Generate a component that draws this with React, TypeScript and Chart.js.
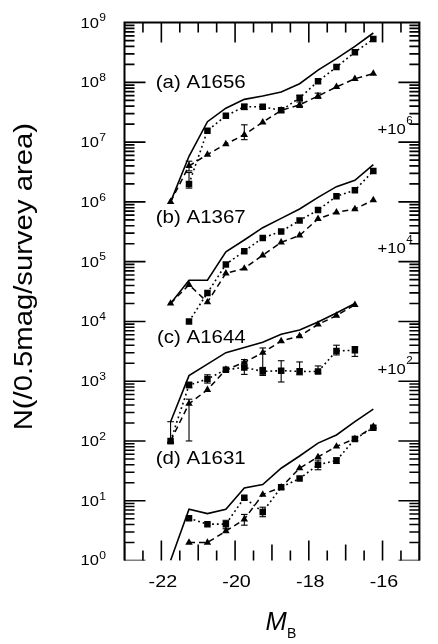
import { useEffect, useRef } from "react";
import { Chart, registerables } from "chart.js";

Chart.register(...registerables);

// Absolute magnitude bin centres (M_B)
const MAGS = [-21.75, -21.25, -20.75, -20.25, -19.75, -19.25, -18.75, -18.25, -17.75, -17.25, -16.75, -16.25];

const PANEL_LABELS = ["(a) A1656", "(b) A1367", "(c) A1644", "(d) A1631"];
const OFFSET_EXPONENTS = [6, 4, 2, 0];

// (a) A1656  (plotted x 10^6)
const A1656_TOTAL = [1.0, 5.8, 22, 37, 52, 59, 69, 95, 160, 250, 400, 670];
const A1656_SQ = [null, 2.0, 15.5, 27.7, 39, 39, 34, 55, 104, 180, 320, 530];
const A1656_TRI = [1.0, 4.0, 6.2, 9.3, 13.3, 21.5, 34, 42, 59, 84, 115, 140];
const A1656_SQ_ERR = [null, [1.7, 3.1], null, null, [35, 43], [36, 42], null, [50, 61], null, null, null, null];
const A1656_TRI_ERR = [null, [3.3, 4.8], null, null, [11, 19.5], null, null, [38, 47], [54, 66], null, null, null];

// (b) A1367  (plotted x 10^4)
const A1367_TOTAL = [2.0, 4.9, 4.9, 14.6, 23, 37, 53, 76, 119, 180, 230, 420];
const A1367_SQ = [null, 1.0, 3.0, 9.0, 15, 25, 32, 49, 73, 124, 157, 330];
const A1367_TRI = [2.0, 4.1, 2.1, 6.4, 7.7, 12.8, 21, 27.5, 52, 67, 76, 107];

// (c) A1644  (plotted x 10^2)
const A1644_TOTAL = [2.1, 12.4, 19.3, 30, 36.5, 45, 61, 72, 98, 138, 200, null];
const A1644_SQ = [1.0, 8.6, 10.9, 15.6, 17, 14.6, 15, 14.6, 14.5, 32, 33, null];
const A1644_TRI = [1.0, 4.2, 7.2, 15.6, 20.6, 30, 47, 57, 89, 125, 190, null];
const A1644_SQ_ERR = [[0.9, 2.1], [7.8, 9.6], [9.3, 12.8], null, [13, 21], [12.5, 17], [9.7, 22], [12.8, 21], [13.5, 18], [27.5, 40], [26, 38], null];
const A1644_TRI_ERR = [null, [1.0, 5.0], null, null, [18, 23], [16, 36], null, null, null, null, null, null];

// (d) A1631  (no offset)
const A1631_TOTAL = [1.0, 7.2, 6.1, 7.2, 16.4, 18.6, 35, 56, 92, 126, 210, 342];
const A1631_SQ = [null, 5.1, 4.06, 4.06, 11.2, 6.5, 16.8, 23.5, 40, 47, 108, 166];
const A1631_TRI = [null, 2.0, 2.0, 3.1, 4.9, 12.7, 16.8, 35, 54, 81, 109, 174];
const A1631_SQ_ERR = [null, null, null, [3.4, 4.7], null, [5.4, 7.8], null, null, [33, 48], [42, 52], null, null];
const A1631_TRI_ERR = [null, null, null, null, [3.9, 5.9], null, null, null, null, null, null, null];

const X_MIN = -23;
const X_MAX = -15;
const Y_MIN = 1;
const Y_MAX = 1e9;
const X_TICK_LABELS = [-22, -20, -18, -16];
const Y_TICK_EXPONENTS = [0, 1, 2, 3, 4, 5, 6, 7, 8, 9];
const Y_MINOR_MANTISSAS = [1, 2, 3, 4, 5, 6, 7, 8, 9];

const Y_TITLE = "N(/0.5mag/survey area)";

const FONT = '"Liberation Sans", Arial, Helvetica, sans-serif';

type ErrList = (number[] | null)[] | null;

const ERROR_SETS: { errs: (number[] | null)[] }[] = [];

function makeSeries(values: (number | null)[], exp: number, kind: "solid" | "sq" | "tri", errors: ErrList = null) {
  const off = Math.pow(10, exp);
  if (errors) ERROR_SETS.push({ errs: errors.map((e) => (e ? [e[0] * off, e[1] * off] : null)) });
  const data = MAGS.map((x, i) => ({ x, y: values[i] == null ? null : (values[i] as number) * off }));
  const base: any = {
    data,
    borderColor: "#000",
    backgroundColor: "#000",
    pointBackgroundColor: "#000",
    pointBorderWidth: 0,
    tension: 0,
    fill: false,
  };
  if (kind === "solid") return { ...base, borderWidth: 1.6, pointRadius: 0 };
  if (kind === "sq") return { ...base, borderWidth: 1.6, borderDash: [1.8, 3], pointStyle: "rect", pointRadius: 4.6 };
  return { ...base, borderWidth: 1.5, borderDash: [6, 4], pointStyle: "triangle", pointRadius: 4.3 };
}

// axis tick marks drawn as 'line' point markers sitting on the frame edge,
// clipped to the plot area so only the inner half shows
function tickSeries(points: { x: number; y: number }[], lengths: number[], vertical: boolean) {
  return {
    data: points,
    showLine: false,
    pointStyle: "line",
    pointRotation: vertical ? 90 : 0,
    pointRadius: lengths,
    pointBorderWidth: 1.6,
    pointBorderColor: "#000",
    pointBackgroundColor: "#000",
    borderColor: "#000",
    clip: 0,
  };
}

function axisDatasets() {
  const xTicks: number[] = [];
  for (let k = 0; k <= 16; k++) xTicks.push(X_MIN + k * 0.5);
  const isInt = (v: number) => Math.abs(v - Math.round(v)) < 1e-6;
  const isEven = (v: number) => isInt(v) && Math.abs(Math.round(v)) % 2 === 0;
  const bottomLen = xTicks.map((v) => (isEven(v) ? 20 : isInt(v) ? 16 : 10));
  const topLen = xTicks.map((v) => (isEven(v) ? 20 : 10));

  const yTicks: number[] = [];
  const yLen: number[] = [];
  for (let e = 0; e < 9; e++) {
    Y_MINOR_MANTISSAS.forEach((m) => {
      yTicks.push(m * Math.pow(10, e));
      yLen.push(m === 1 ? 21 : 10);
    });
  }

  return [
    tickSeries(xTicks.map((x) => ({ x, y: Y_MIN })), bottomLen, true),
    tickSeries(xTicks.map((x) => ({ x, y: Y_MAX })), topLen, true),
    tickSeries(yTicks.map((y) => ({ x: X_MIN, y })), yLen, false),
    tickSeries(yTicks.map((y) => ({ x: X_MAX, y })), yLen, false),
    {
      data: [
        { x: X_MIN, y: Y_MIN },
        { x: X_MIN, y: Y_MAX },
        { x: X_MAX, y: Y_MAX },
        { x: X_MAX, y: Y_MIN },
        { x: X_MIN, y: Y_MIN },
      ],
      borderColor: "#000",
      borderWidth: 2,
      pointRadius: 0,
      tension: 0,
      fill: false,
      clip: false,
    },
  ];
}

function txt(ctx: CanvasRenderingContext2D, s: string, x: number, y: number, size: number, sx: number, align: CanvasTextAlign = "left", style = "") {
  ctx.save();
  ctx.font = `${style} ${size}px ${FONT}`;
  ctx.textAlign = align;
  ctx.textBaseline = "alphabetic";
  ctx.fillStyle = "#000";
  ctx.translate(x, y);
  ctx.scale(sx, 1);
  ctx.fillText(s, 0, 0);
  const w = ctx.measureText(s).width * sx;
  ctx.restore();
  return w;
}

const decorPlugin = {
  id: "decor",
  beforeDatasetsDraw(chart: any) {
    const ctx: CanvasRenderingContext2D = chart.ctx;
    const xs = chart.scales.x;
    const ys = chart.scales.y;
    ctx.save();
    ctx.fillStyle = "#000";
    ERROR_SETS.forEach((set) => {
      set.errs.forEach((e, i) => {
        if (!e) return;
        const px = xs.getPixelForValue(MAGS[i]);
        const y1 = ys.getPixelForValue(e[0]);
        const y2 = ys.getPixelForValue(e[1]);
        ctx.fillRect(px - 0.55, Math.min(y1, y2), 1.1, Math.abs(y2 - y1));
        ctx.fillRect(px - 3.3, y1 - 0.55, 6.6, 1.1);
        ctx.fillRect(px - 3.3, y2 - 0.55, 6.6, 1.1);
      });
    });
    ctx.restore();
  },
  afterDraw(chart: any) {
    const ctx: CanvasRenderingContext2D = chart.ctx;
    const xs = chart.scales.x;
    const ys = chart.scales.y;

    // y tick labels
    Y_TICK_EXPONENTS.forEach((e) => {
      const py = ys.getPixelForValue(Math.pow(10, e));
      const w = txt(ctx, "10", 80.5, py + 4.9, 15, 1.1);
      txt(ctx, String(e), 80.5 + w + 0.3, py - 1.2, 11.5, 1.05);
    });

    // x tick labels
    X_TICK_LABELS.forEach((v) => {
      const px = xs.getPixelForValue(v) + 1.5;
      txt(ctx, String(v), px, 587.3, 17, 1.16, "center");
    });

    // panel labels
    const panelBaselines = [87.5, 223.3, 343.3, 464.3];
    PANEL_LABELS.forEach((s, i) => {
      txt(ctx, s, 245.7, panelBaselines[i], 17.5, 1.17, "right");
    });

    // offset labels
    const offBaselines = [134, 253.3, 374];
    OFFSET_EXPONENTS.forEach((e, i) => {
      if (e === 0) return;
      const b = offBaselines[i];
      const w = txt(ctx, "+10", 377.6, b, 14.5, 1.15);
      txt(ctx, String(e), 377.6 + w + 0.4, b - 10, 11, 1.05);
    });

    // y title (rotated)
    ctx.save();
    ctx.translate(32, 276.7);
    ctx.rotate(-Math.PI / 2);
    ctx.scale(1.17, 1);
    ctx.font = `25px ${FONT}`;
    ctx.textAlign = "center";
    ctx.textBaseline = "alphabetic";
    ctx.fillStyle = "#000";
    ctx.fillText(Y_TITLE, 0, 0);
    ctx.restore();

    // x title M_B
    const wM = txt(ctx, "M", 265.5, 630, 25.5, 1.0, "left", "italic");
    txt(ctx, "B", 265.5 + wM + 0.3, 638, 14, 1.0);
  },
};

export default function App() {
  const ref = useRef<HTMLCanvasElement | null>(null);

  useEffect(() => {
    if (!ref.current) return;
    ERROR_SETS.length = 0;
    const datasets = [
      makeSeries(A1656_TOTAL, OFFSET_EXPONENTS[0], "solid"),
      makeSeries(A1656_SQ, OFFSET_EXPONENTS[0], "sq", A1656_SQ_ERR),
      makeSeries(A1656_TRI, OFFSET_EXPONENTS[0], "tri", A1656_TRI_ERR),
      makeSeries(A1367_TOTAL, OFFSET_EXPONENTS[1], "solid"),
      makeSeries(A1367_SQ, OFFSET_EXPONENTS[1], "sq"),
      makeSeries(A1367_TRI, OFFSET_EXPONENTS[1], "tri"),
      makeSeries(A1644_TOTAL, OFFSET_EXPONENTS[2], "solid"),
      makeSeries(A1644_SQ, OFFSET_EXPONENTS[2], "sq", A1644_SQ_ERR),
      makeSeries(A1644_TRI, OFFSET_EXPONENTS[2], "tri", A1644_TRI_ERR),
      makeSeries(A1631_TOTAL, OFFSET_EXPONENTS[3], "solid"),
      makeSeries(A1631_SQ, OFFSET_EXPONENTS[3], "sq", A1631_SQ_ERR),
      makeSeries(A1631_TRI, OFFSET_EXPONENTS[3], "tri", A1631_TRI_ERR),
      ...axisDatasets(),
    ];
    const chart = new Chart(ref.current, {
      type: "line",
      data: { datasets } as any,
      options: {
        animation: false,
        responsive: false,
        devicePixelRatio: 1,
        parsing: false as any,
        layout: { padding: { left: 124.5, right: 1.5, top: 16.7, bottom: 83.5 } },
        plugins: { legend: { display: false }, tooltip: { enabled: false } },
        scales: {
          x: { type: "linear", min: X_MIN, max: X_MAX, display: false },
          y: { type: "logarithmic", min: Y_MIN, max: Y_MAX, display: false },
        },
      } as any,
      plugins: [decorPlugin],
    });
    return () => chart.destroy();
  }, []);

  return (
    <div style={{ position: "fixed", left: 0, top: 0, width: 438, height: 644, overflow: "hidden", background: "#fff" }}>
      <canvas ref={ref} width={442} height={644} style={{ display: "block", width: 442, height: 644 }} />
    </div>
  );
}
